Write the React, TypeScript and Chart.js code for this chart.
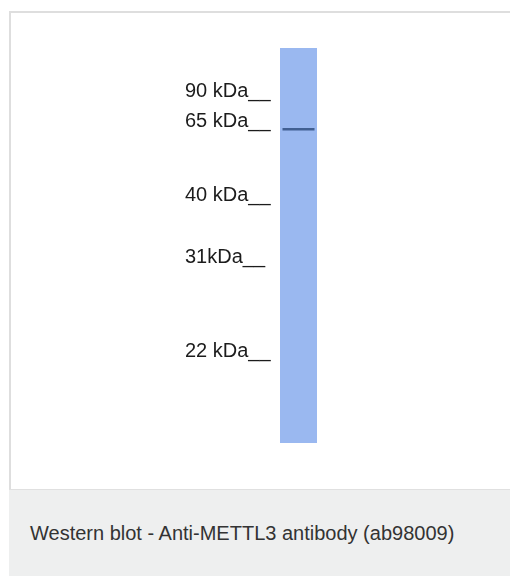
import React, { useEffect, useRef } from "react";
import { Chart, registerables } from "chart.js";

Chart.register(...registerables);

// Migration is expressed as the fraction of the lane length (0 = top of lane, 1 = bottom)
const markerLabels = ["90 kDa__", "65 kDa__", "40 kDa__", "31kDa__", "22 kDa__"];
const markerPositions = [0.132, 0.208, 0.395, 0.552, 0.79];
const laneNames = ["Lane 1"];
const laneExtent: [number, number][] = [[0, 1]];
const bandPositions = [0.206];
const caption = "Western blot - Anti-METTL3 antibody (ab98009)";

export default function App() {
  const ref = useRef<HTMLCanvasElement | null>(null);

  useEffect(() => {
    if (!ref.current) return;
    const chart = new Chart(ref.current, {
      type: "bar",
      data: {
        labels: laneNames,
        datasets: [
          {
            type: "bar",
            data: laneExtent as any,
            backgroundColor: "#9ab8f0",
            borderWidth: 0,
            barPercentage: 1,
            categoryPercentage: 1,
            order: 2,
          },
          {
            type: "scatter" as any,
            data: bandPositions.map((b) => ({ x: laneNames[0], y: b })) as any,
            pointStyle: "line",
            pointRadius: 16,
            borderWidth: 2.5,
            borderColor: "rgba(52,82,132,0.88)",
            backgroundColor: "rgba(52,82,132,0.88)",
            order: 1,
          },
        ],
      },
      options: {
        animation: false,
        responsive: false,
        events: [],
        layout: { padding: { left: 185, right: 193, top: 48, bottom: 133 } },
        plugins: { legend: { display: false }, tooltip: { enabled: false } },
        scales: {
          x: { type: "category", display: false, offset: true },
          y: {
            type: "linear",
            reverse: true,
            min: 0,
            max: 1,
            position: "left",
            grid: { display: false, drawTicks: false },
            border: { display: false },
            afterBuildTicks: (scale: any) => {
              scale.ticks = markerPositions.map((v) => ({ value: v }));
            },
            afterFit: (scale: any) => {
              scale.width = 95;
            },
            ticks: {
              autoSkip: false,
              crossAlign: "far",
              padding: 0,
              labelOffset: -9,
              color: "#1c1c1c",
              font: { family: "'Liberation Sans', Arial, sans-serif", size: 20 },
              callback: (_v: any, i: number) => markerLabels[i],
            },
          },
        },
      },
    });
    return () => chart.destroy();
  }, []);

  return (
    <div style={{ position: "fixed", left: 0, top: 0, width: 510, height: 576, overflow: "hidden", background: "#fff" }}>
      <div
        style={{
          position: "absolute",
          left: 9,
          top: 11,
          width: 501,
          height: 478,
          boxSizing: "border-box",
          borderLeft: "2px solid #dedede",
          borderTop: "2px solid #dedede",
          background: "#fff",
        }}
      />
      <div
        style={{
          position: "absolute",
          left: 9,
          top: 489,
          width: 501,
          height: 87,
          boxSizing: "border-box",
          borderTop: "1px solid #e0e0e0",
          background: "#eeefef",
        }}
      >
        <div
          style={{
            position: "absolute",
            left: 21,
            top: 32,
            fontFamily: "'Liberation Sans', Arial, sans-serif",
            fontSize: 20,
            lineHeight: "23px",
            color: "#333",
            whiteSpace: "nowrap",
          }}
        >
          {caption}
        </div>
      </div>
      <canvas ref={ref} width={510} height={576} style={{ position: "absolute", left: 0, top: 0 }} />
    </div>
  );
}
